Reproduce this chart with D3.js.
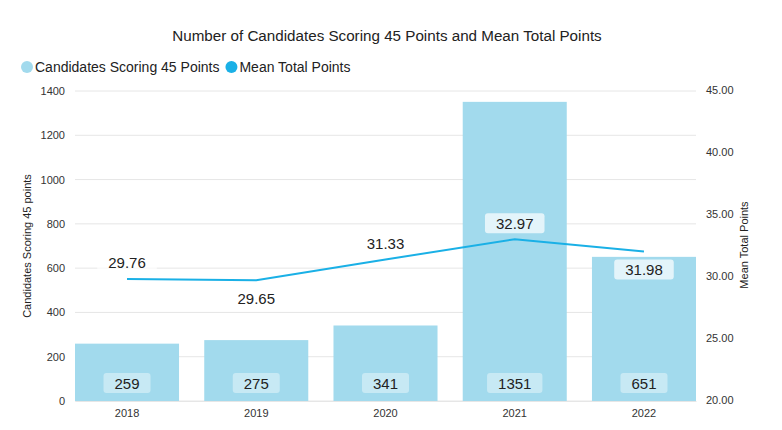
<!DOCTYPE html>
<html lang="en">
<head>
  <meta charset="UTF-8">
  <title>Candidates chart</title>
  <style>
    body { margin: 0; background: #fff; font-family: "Liberation Sans", Arial, sans-serif; }
    svg { display: block; }
  </style>
</head>
<body>
  <script src="https://d3js.org/d3.v7.min.js"></script>
  <script>
    // data
    const years = ['2018', '2019', '2020', '2021', '2022']
    const candidates = [259, 275, 341, 1351, 651]
    const meanPoints = [29.76, 29.65, 31.33, 32.97, 31.98]
    const leftTicks = [0, 200, 400, 600, 800, 1000, 1200, 1400]
    const rightTicks = [20, 25, 30, 35, 40, 45]

    const width = 782, height = 430
    const barColor = '#a2daed'
    const lineColor = '#1ab0e6'
    const textColor = '#333'

    const svg = d3.select('body').append('svg')
      .attr('width', width)
      .attr('height', height)

    const x = d3.scaleBand().domain(years).range([75, 696]).paddingInner(0.195).paddingOuter(0)
    const yL = d3.scaleLinear().domain([0, 1400]).range([401, 91])
    const yR = d3.scaleLinear().domain([20, 45]).range([400, 90])

    // title
    svg.append('text')
      .attr('x', 387).attr('y', 41)
      .attr('text-anchor', 'middle')
      .attr('font-size', 15.2)
      .attr('fill', '#222')
      .text('Number of Candidates Scoring 45 Points and Mean Total Points')

    // legend
    const legend = [
      { name: 'Candidates Scoring 45 Points', color: barColor },
      { name: 'Mean Total Points', color: lineColor }
    ]
    let lx = 21
    legend.forEach(l => {
      svg.append('circle').attr('cx', lx + 6).attr('cy', 67).attr('r', 6).attr('fill', l.color)
      const t = svg.append('text')
        .attr('x', lx + 14).attr('y', 72)
        .attr('font-size', 14).attr('fill', '#222')
        .text(l.name)
      lx += 14 + t.node().getComputedTextLength() + 6
    })

    // grid lines
    svg.append('g')
      .selectAll('line')
      .data(leftTicks)
      .join('line')
      .attr('x1', 75).attr('x2', 696)
      .attr('y1', d => yL(d)).attr('y2', d => yL(d))
      .attr('stroke', '#e6e6e6')
      .attr('stroke-width', 1)

    // left axis
    svg.append('g')
      .attr('transform', 'translate(75,0)')
      .call(d3.axisLeft(yL).tickValues(leftTicks).tickFormat(d3.format('d')).tickSize(0).tickPadding(10))
      .call(g => g.select('.domain').remove())
      .call(g => g.selectAll('text').attr('font-size', 11).attr('fill', textColor)
        .attr('font-family', '"Liberation Sans", Arial, sans-serif'))

    // right axis
    svg.append('g')
      .attr('transform', 'translate(696,0)')
      .call(d3.axisRight(yR).tickValues(rightTicks).tickFormat(d3.format('.2f')).tickSize(0).tickPadding(10))
      .call(g => g.select('.domain').remove())
      .call(g => g.selectAll('text').attr('font-size', 11).attr('fill', textColor)
        .attr('font-family', '"Liberation Sans", Arial, sans-serif'))

    // x axis
    svg.append('g')
      .attr('transform', 'translate(0,401)')
      .call(d3.axisBottom(x).tickSize(0).tickPadding(8))
      .call(g => g.select('.domain').attr('stroke', '#e6e6e6'))
      .call(g => g.selectAll('text').attr('font-size', 11).attr('fill', textColor)
        .attr('font-family', '"Liberation Sans", Arial, sans-serif'))

    // axis titles
    svg.append('text')
      .attr('transform', `translate(31,${yL(700)}) rotate(-90)`)
      .attr('text-anchor', 'middle')
      .attr('font-size', 11).attr('fill', '#222')
      .text('Candidates Scoring 45 points')
    svg.append('text')
      .attr('transform', `translate(748,${yR(32.5)}) rotate(-90)`)
      .attr('text-anchor', 'middle')
      .attr('font-size', 11).attr('fill', '#222')
      .text('Mean Total Points')

    // bars
    svg.append('g')
      .selectAll('rect')
      .data(candidates)
      .join('rect')
      .attr('x', (d, i) => x(years[i]))
      .attr('width', x.bandwidth())
      .attr('y', d => yL(d))
      .attr('height', d => yL(0) - yL(d))
      .attr('fill', barColor)

    // line
    const line = d3.line()
      .x((d, i) => x(years[i]) + x.bandwidth() / 2)
      .y(d => yR(d))
    svg.append('path')
      .datum(meanPoints)
      .attr('d', line)
      .attr('fill', 'none')
      .attr('stroke', lineColor)
      .attr('stroke-width', 2)

    // label with a rounded box behind it
    function label(cx, cy, txt, fill, opacity) {
      const g = svg.append('g')
      const rect = g.append('rect')
      const t = g.append('text')
        .attr('x', cx).attr('y', cy + 5.5)
        .attr('text-anchor', 'middle')
        .attr('font-size', 15).attr('fill', '#222')
        .text(txt)
      const w = t.node().getComputedTextLength() + 22
      rect.attr('x', cx - w / 2).attr('y', cy - 10)
        .attr('width', w).attr('height', 20)
        .attr('rx', 3)
        .attr('fill', fill).attr('fill-opacity', opacity)
    }

    // bar value labels near the base
    candidates.forEach((d, i) => {
      label(x(years[i]) + x.bandwidth() / 2, 383, d, '#fff', 0.4)
    })

    // mean labels: above when rising, below when falling
    meanPoints.forEach((d, i) => {
      const below = i > 0 && d < meanPoints[i - 1]
      const cx = x(years[i]) + x.bandwidth() / 2
      const cy = yR(d) + (below ? 18 : -16)
      label(cx, cy, d.toFixed(2), '#fff', 0.7)
    })
  </script>
</body>
</html>
